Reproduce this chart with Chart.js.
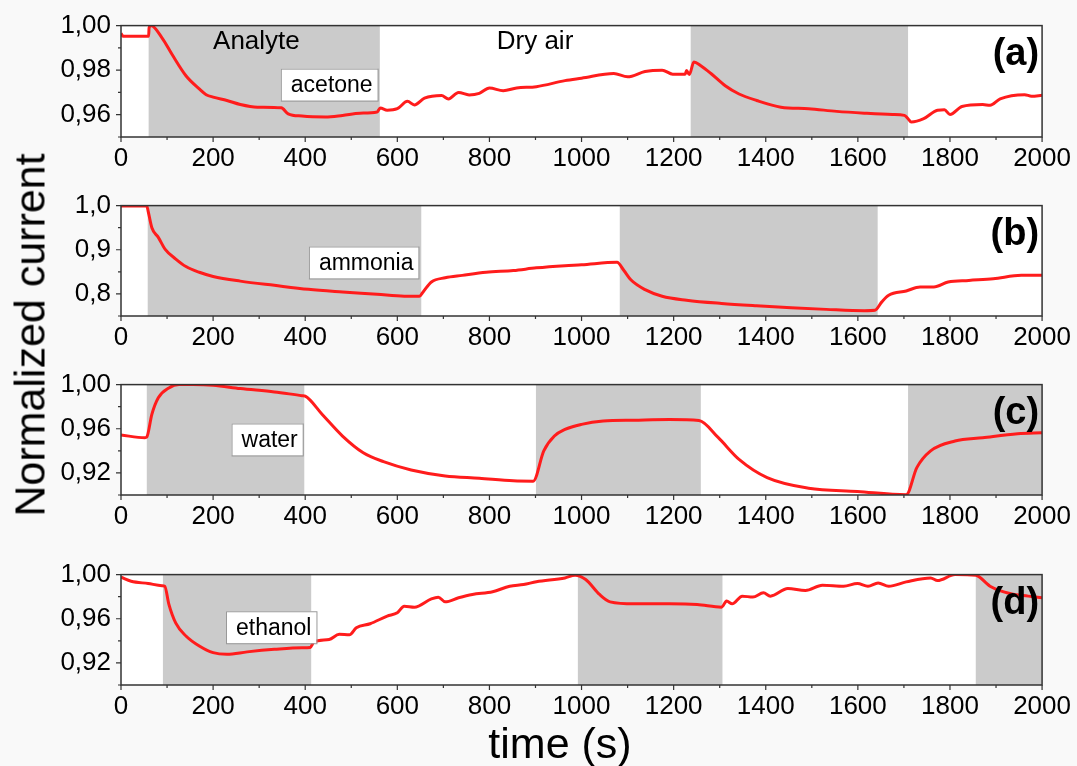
<!DOCTYPE html>
<html>
<head>
<meta charset="utf-8">
<script src="https://cdn.jsdelivr.net/npm/chart.js@4.4.0/dist/chart.umd.min.js"></script>
<style>
  body { margin:0; background:#f9f9f9; width:1077px; height:766px; position:relative; overflow:hidden; font-family:"Liberation Sans", Arial, sans-serif; }
  canvas { position:absolute; left:0; }
  .ytitle { position:absolute; left:30px; top:335px; transform:translate(-50%,-50%) rotate(-90deg); font-size:43px; white-space:nowrap; color:#000; }
  .xtitle { position:absolute; left:560px; top:743px; transform:translate(-50%,-50%); font-size:43px; white-space:nowrap; color:#000; }
</style>
</head>
<body>
<canvas id="chartA" width="1077" height="177" style="top:0px"></canvas>
<canvas id="chartB" width="1077" height="176" style="top:180px"></canvas>
<canvas id="chartC" width="1077" height="176" style="top:359px"></canvas>
<canvas id="chartD" width="1077" height="176" style="top:549px"></canvas>
<div class="ytitle">Normalized current</div>
<div class="xtitle">time (s)</div>
<script>
// (a) acetone
const timeA = [0,5,60,61,65,89,111,141,170,185,200,230,259,296,348,363,393,444,481,519,556,563,578,600,622,637,659,696,711,733,756,778,800,830,859,902,964,1000,1070,1100,1138,1175,1198,1225,1228,1234,1244,1259,1281,1312,1342,1380,1433,1493,1554,1614,1675,1701,1709,1716,1743,1773,1788,1800,1826,1871,1887,1909,1962,1977,2000];
const currentA = [0.9965,0.9952,0.9952,0.999,1.000,0.9945,0.987,0.9775,0.9716,0.969,0.9679,0.9664,0.9646,0.9634,0.9631,0.9604,0.9594,0.959,0.9597,0.9607,0.9612,0.963,0.962,0.9627,0.966,0.9644,0.9674,0.9686,0.9671,0.970,0.9689,0.9696,0.972,0.9708,0.972,0.9726,0.9753,0.9764,0.9785,0.977,0.9794,0.980,0.9782,0.9782,0.9798,0.978,0.9837,0.982,0.9785,0.973,0.9693,0.9664,0.9634,0.9627,0.9615,0.9607,0.9601,0.9597,0.9582,0.9567,0.9582,0.962,0.9622,0.9601,0.9637,0.9646,0.9642,0.9671,0.969,0.9683,0.9687];

// (b) ammonia
const timeB = [0,56,59,67,81,96,119,141,170,200,259,333,407,481,556,615,648,656,674,704,741,793,852,902,964,1000,1077,1092,1107,1138,1175,1228,1304,1380,1455,1531,1614,1637,1652,1667,1705,1735,1765,1796,1841,1894,1955,2000];
const currentB = [0.999,0.999,0.987,0.95,0.928,0.901,0.879,0.862,0.849,0.8396,0.829,0.8194,0.8104,0.8045,0.7993,0.7948,0.7948,0.8045,0.827,0.8366,0.842,0.849,0.853,0.859,0.864,0.866,0.8716,0.853,0.832,0.8097,0.7948,0.7858,0.7784,0.7731,0.7687,0.765,0.762,0.763,0.782,0.797,0.8067,0.8157,0.8157,0.827,0.8306,0.8343,0.842,0.842];

// (c) water
const timeC = [0,52,56,67,81,104,126,156,200,259,333,393,400,437,481,526,570,630,704,778,852,895,918,941,964,1000,1047,1115,1191,1255,1297,1342,1403,1493,1599,1705,1728,1758,1811,1871,1947,2000];
const currentC = [0.9543,0.9519,0.9525,0.973,0.988,0.997,1.0,1.0,0.9994,0.9964,0.9934,0.990,0.9895,0.973,0.9534,0.9383,0.9302,0.9227,0.9173,0.9152,0.9128,0.9125,0.94,0.9534,0.9594,0.964,0.967,0.9678,0.9684,0.9675,0.9519,0.9323,0.9158,0.9062,0.9032,0.9002,0.9248,0.94,0.9489,0.9519,0.9555,0.9564];

// (d) ethanol
const timeD = [0,22,59,89,95,104,119,141,170,200,230,274,333,393,411,419,452,474,496,511,541,578,600,615,637,674,689,704,733,763,807,844,874,902,964,986,1009,1039,1062,1115,1191,1251,1304,1315,1327,1349,1372,1395,1410,1448,1486,1523,1569,1599,1622,1644,1667,1705,1758,1773,1811,1856,1887,1932,1970,2000];
const currentD = [0.9976,0.994,0.9919,0.990,0.9895,0.973,0.956,0.9444,0.9353,0.9293,0.9278,0.930,0.9323,0.9338,0.934,0.939,0.9413,0.9459,0.9455,0.9519,0.9555,0.9624,0.9654,0.9714,0.9705,0.978,0.9795,0.9753,0.979,0.982,0.9844,0.9895,0.991,0.9935,0.997,0.9994,0.9955,0.982,0.9753,0.9735,0.9735,0.9729,0.9705,0.976,0.9735,0.9805,0.9796,0.9835,0.9805,0.9874,0.9856,0.9904,0.9895,0.9919,0.9895,0.9925,0.9895,0.9934,0.997,0.9946,1.0,0.9994,0.9895,0.9826,0.9805,0.979];

// analyte exposure intervals (s)
const shadeA = [[60,562],[1237,1709]];
const shadeB = [[58,652],[1083,1643]];
const shadeC = [[56,398],[901,1259],[1709,2000]];
const shadeD = [[91,413],[992,1306],[1856,2000]];

const xTicks = [0,200,400,600,800,1000,1200,1400,1600,1800,2000];
const yTicksA = [0.96,0.98,1.00];
const yTicksB = [0.8,0.9,1.0];
const yTicksC = [0.92,0.96,1.00];
const yTicksD = [0.92,0.96,1.00];

Chart.defaults.font.family = '"Liberation Sans", Arial, sans-serif';
Chart.defaults.color = "#000";

const panelPlugin = {
  id: "panel",
  beforeDraw(chart) {
    let a = chart.chartArea, ctx = chart.ctx;
    ctx.save();
    ctx.fillStyle = "#fff";
    ctx.fillRect(a.left, a.top, a.right - a.left, a.bottom - a.top);
    ctx.restore();
  },
  beforeDatasetsDraw(chart, args, opts) {
    let a = chart.chartArea, ctx = chart.ctx, x = chart.scales.x;
    ctx.save();
    ctx.fillStyle = "#cbcbcb";
    opts.shade.forEach((s) => {
      let x1 = x.getPixelForValue(s[0]), x2 = x.getPixelForValue(s[1]);
      ctx.fillRect(x1, a.top, x2 - x1, a.bottom - a.top);
    });
    ctx.restore();
  },
  afterDatasetsDraw(chart, args, opts) {
    let a = chart.chartArea, ctx = chart.ctx, x = chart.scales.x, y = chart.scales.y;
    ctx.save();
    // frame
    ctx.strokeStyle = "#333";
    ctx.lineWidth = 1.5;
    ctx.strokeRect(a.left, a.top, a.right - a.left, a.bottom - a.top);
    // x ticks, major every 200, minor every 100
    ctx.lineWidth = 1.2;
    ctx.beginPath();
    for (let v = 0; v <= 2000; v += 100) {
      let px = x.getPixelForValue(v);
      let len = v % 200 == 0 ? 5 : 3;
      ctx.moveTo(px, a.bottom);
      ctx.lineTo(px, a.bottom + len);
    }
    // y ticks
    let t = opts.yTicks;
    let step = t[1] - t[0];
    t.forEach((v) => {
      let py = y.getPixelForValue(v);
      ctx.moveTo(a.left, py);
      ctx.lineTo(a.left - 5, py);
      let m = v - step / 2;
      if (m >= y.min - 1e-9) {
        let pm = y.getPixelForValue(m);
        ctx.moveTo(a.left, pm);
        ctx.lineTo(a.left - 3, pm);
      }
    });
    ctx.stroke();
    // panel letter
    ctx.fillStyle = "#000";
    ctx.font = 'bold 38px "Liberation Sans", Arial, sans-serif';
    ctx.textAlign = "right";
    ctx.textBaseline = "middle";
    ctx.fillText(opts.letter, a.right - 3, a.top + 29);
    // free notes
    ctx.font = '26px "Liberation Sans", Arial, sans-serif';
    ctx.textAlign = "center";
    (opts.notes || []).forEach((n) => {
      ctx.fillText(n.text, x.getPixelForValue(n.x), y.getPixelForValue(n.y));
    });
    // boxed analyte name
    let b = opts.box;
    ctx.font = '23px "Liberation Sans", Arial, sans-serif';
    let w = ctx.measureText(b.text).width;
    let bx = x.getPixelForValue(b.x), by = y.getPixelForValue(b.y);
    ctx.fillStyle = "#fff";
    ctx.fillRect(bx, by - 16, w + 15, 32);
    ctx.strokeStyle = "#999";
    ctx.lineWidth = 1;
    ctx.strokeRect(bx + 0.5, by - 16 + 0.5, w + 15, 32);
    ctx.fillStyle = "#000";
    ctx.textAlign = "left";
    ctx.fillText(b.text, bx + 10, by + 1);
    ctx.restore();
  },
};

function fmt(dec) {
  return (v) => v.toFixed(dec).replace(".", ",");
}

function makePanel(id, times, values, yMin, yMax, yTicks, dec, panelOpts) {
  panelOpts.yTicks = yTicks;
  return new Chart(document.getElementById(id), {
    type: "line",
    data: {
      datasets: [
        {
          data: times.map((t, i) => ({ x: t, y: values[i] })),
          borderColor: "rgb(255,28,28)",
          borderWidth: 3,
          pointRadius: 0,
          cubicInterpolationMode: "monotone",
          fill: false,
        },
      ],
    },
    options: {
      responsive: false,
      animation: false,
      devicePixelRatio: 1,
      layout: { padding: { top: 24, right: 34, left: 0, bottom: 0 } },
      plugins: { legend: { display: false }, tooltip: { enabled: false }, panel: panelOpts },
      scales: {
        x: {
          type: "linear",
          min: 0,
          max: 2000,
          afterBuildTicks: (s) => { s.ticks = xTicks.map((v) => ({ value: v })); },
          afterFit: (s) => { s.height = 40; },
          ticks: { font: { size: 26 }, padding: 6, maxRotation: 0, autoSkip: false, callback: (v) => String(v) },
          grid: { display: false, drawTicks: false },
          border: { display: false },
        },
        y: {
          min: yMin,
          max: yMax,
          afterBuildTicks: (s) => { s.ticks = yTicks.map((v) => ({ value: v })); },
          afterFit: (s) => { s.width = 121; },
          ticks: { font: { size: 26 }, padding: 10, callback: fmt(dec) },
          grid: { display: false, drawTicks: false },
          border: { display: false },
        },
      },
    },
    plugins: [panelPlugin],
  });
}

makePanel("chartA", timeA, currentA, 0.95, 1.0, yTicksA, 2, {
  shade: shadeA,
  letter: "(a)",
  notes: [{ text: "Analyte", x: 294, y: 0.9929 }, { text: "Dry air", x: 899, y: 0.9929 }],
  box: { text: "acetone", x: 347, y: 0.9735 },
});
makePanel("chartB", timeB, currentB, 0.75, 1.0, yTicksB, 1, {
  shade: shadeB,
  letter: "(b)",
  box: { text: "ammonia", x: 408, y: 0.8712 },
});
makePanel("chartC", timeC, currentC, 0.9, 1.0, yTicksC, 2, {
  shade: shadeC,
  letter: "(c)",
  box: { text: "water", x: 240, y: 0.9503 },
});
makePanel("chartD", timeD, currentD, 0.9, 1.0, yTicksD, 2, {
  shade: shadeD,
  letter: "(d)",
  box: { text: "ethanol", x: 228, y: 0.9523 },
});
</script>
</body>
</html>
